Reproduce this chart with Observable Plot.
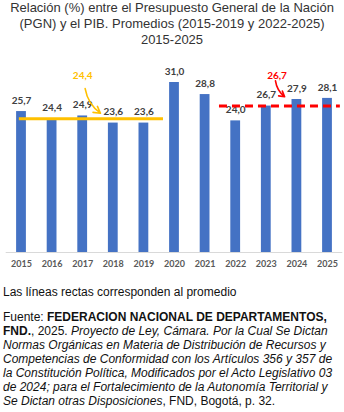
<!DOCTYPE html>
<html><head><meta charset="utf-8">
<script src="https://cdn.jsdelivr.net/npm/d3@7"></script>
<script src="https://cdn.jsdelivr.net/npm/@observablehq/plot@0.6"></script>
<style>
body{margin:0;background:#fff;font-family:"Liberation Sans",Arial,sans-serif;width:344px;overflow:hidden;}
#title{font-size:13px;line-height:16px;text-align:center;color:#333;height:48px;}
#chart svg{display:block;}
#note{font-size:12px;line-height:15px;margin:5px 0 0 3px;color:#111;white-space:nowrap;}
#src{font-size:12px;line-height:14px;margin:10px 0 0 3px;color:#111;white-space:nowrap;}
</style></head><body>
<div id="title">Relación (%) entre el Presupuesto General de la Nación<br>(PGN) y el PIB. Promedios (2015-2019 y 2022-2025)<br>2015-2025</div>
<div id="chart"></div>
<div id="note">Las líneas rectas corresponden al promedio</div>
<div id="src">Fuente: <b>FEDERACION NACIONAL DE DEPARTAMENTOS,<br>FND.</b>, 2025. <i>Proyecto de Ley, Cámara. Por la Cual Se Dictan<br>Normas Orgánicas en Materia de Distribución de Recursos y<br>Competencias de Conformidad con los Artículos 356 y 357 de<br>la Constitución Política, Modificados por el Acto Legislativo 03<br>de 2024; para el Fortalecimiento de la Autonomía Territorial y<br>Se Dictan otras Disposiciones</i>, FND, Bogotá, p. 32.</div>
<script>
const years = [2015, 2016, 2017, 2018, 2019, 2020, 2021, 2022, 2023, 2024, 2025];
const values = [25.7, 24.4, 24.9, 23.6, 23.6, 31.0, 28.8, 24.0, 26.7, 27.9, 28.1];
const avgFrom = [2015, 2022];
const avgTo = [2019, 2025];
const avgValues = [24.4, 26.7];
const avgColors = ["#FFC000", "#FF0000"];
// callout label positions (data units) and arrow ends
const calloutX = [2017.0, 2023.35];
const calloutY = [32.3, 32.3];
const arrowFromX = [2017.08, 2023.3];
const arrowFromY = [29.9, 31.3];
const arrowToX = [2017.58, 2023.6];
const arrowToY = [25.4, 28.4];

const fmt = v => v.toFixed(1).replace(".", ",");
const data = years.map((year, i) => ({year, value: values[i]}));
const avgs = avgValues.map((v, i) => ({from: avgFrom[i], to: avgTo[i], value: v, color: avgColors[i],
  cx: calloutX[i], cy: calloutY[i], ax1: arrowFromX[i], ay1: arrowFromY[i], ax2: arrowToX[i], ay2: arrowToY[i]}));

const chart = Plot.plot({
  width: 344, height: 232,
  marginTop: 34, marginBottom: 28, marginLeft: 5.7, marginRight: 1.7,
  x: {domain: [2014.5, 2025.5]},
  y: {domain: [0, 31], axis: null},
  marks: [
    Plot.ruleY([0], {stroke: "#d9d9d9", strokeWidth: 1}),
    Plot.rectY(data, {x1: d => d.year - 0.16, x2: d => d.year + 0.16, y: "value", fill: "#4472C4"}),
    Plot.text(data, {x: "year", y: "value", text: d => fmt(d.value), dy: -11, fill: "#404040",
      fontSize: 10, fontWeight: "bold", fontFamily: "Lato, sans-serif"}),
    Plot.axisX(years, {label: null, tickSize: 0, tickPadding: 8, tickFormat: d => String(d),
      fill: "#595959", fontSize: 9, fontWeight: "bold", fontFamily: "Lato, sans-serif"}),
    Plot.ruleY(avgs.slice(0, 1), {x1: d => d.from - 0.07, x2: d => d.to + 0.64, y: "value", stroke: "color", strokeWidth: 3}),
    Plot.ruleY(avgs.slice(1), {x1: d => d.from - 0.53, x2: d => d.to + 0.42, y: "value", stroke: "color", strokeWidth: 3, strokeDasharray: "8,5"}),
    Plot.text(avgs, {x: "cx", y: "cy", text: d => fmt(d.value), fill: "color", fontSize: 10, fontWeight: "bold", fontFamily: "Lato, sans-serif"}),
    Plot.arrow(avgs, {x1: "ax1", y1: "ay1", x2: "ax2", y2: "ay2", stroke: "color", strokeWidth: 1.6, bend: -22, headLength: 7})
  ]
});
document.getElementById("chart").append(chart);
</script>
</body></html>
